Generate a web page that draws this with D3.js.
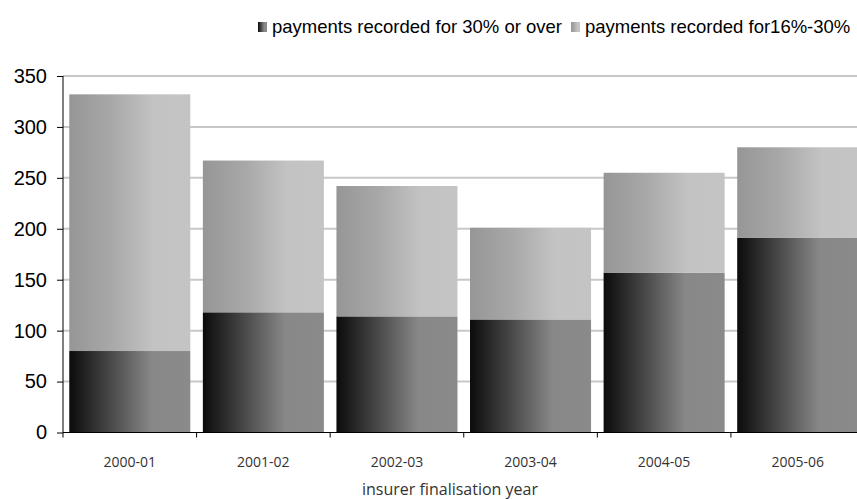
<!DOCTYPE html>
<html>
<head>
<meta charset="utf-8">
<script src="https://cdn.jsdelivr.net/npm/d3@7"></script>
<style>
  html, body { margin: 0; padding: 0; background: #ffffff; }
  svg { display: block; }
</style>
</head>
<body>
<svg id="chart" width="857" height="499"></svg>
<script>
// Finalisation years
const categories = ["2000-01", "2001-02", "2002-03", "2003-04", "2004-05", "2005-06"];
// Payments recorded for 30% or over
const over30 = [80, 118, 114, 111, 157, 191];
// Payments recorded for 16%-30%
const from16to30 = [252, 149, 128, 90, 98, 89];
const seriesNames = ["payments recorded for 30% or over", "payments recorded for16%-30%"];
const yTicks = [0, 50, 100, 150, 200, 250, 300, 350];

const svg = d3.select("#chart");
const W = 857, H = 499;
const plotLeft = 63, plotRight = 864.5, plotTop = 76, plotBottom = 432.5;

const x = d3.scaleBand().domain(categories).range([plotLeft, plotRight]).paddingInner(0.094).paddingOuter(0.047);
const y = d3.scaleLinear().domain([0, 350]).range([plotBottom, plotTop]);

// gradients
const defs = svg.append("defs");
function grad(id, stops) {
  const g = defs.append("linearGradient").attr("id", id).attr("x1", "0").attr("x2", "1").attr("y1", "0").attr("y2", "0");
  stops.forEach(s => g.append("stop").attr("offset", s[0]).attr("stop-color", s[1]));
}
grad("gDark", [[0, "#0b0b0b"], [0.35, "#4a4a4a"], [0.68, "#888888"], [1, "#8a8a8a"]]);
grad("gLight", [[0, "#969696"], [0.35, "#a8a8a8"], [0.7, "#c3c3c3"], [1, "#c4c4c4"]]);
const fills = ["url(#gDark)", "url(#gLight)"];

// horizontal gridlines
svg.append("g").selectAll("line").data(yTicks.slice(1)).join("line")
  .attr("x1", plotLeft).attr("x2", W)
  .attr("y1", d => y(d)).attr("y2", d => y(d))
  .attr("stroke", "#c8c8c8").attr("stroke-width", 2);

// stacked bars
const rows = categories.map((c, i) => ({ cat: c, over30: over30[i], from16to30: from16to30[i] }));
const stack = d3.stack().keys(["over30", "from16to30"])(rows);
svg.append("g").selectAll("g").data(stack).join("g")
  .attr("fill", (d, i) => fills[i])
  .selectAll("rect").data(d => d).join("rect")
  .attr("x", d => x(d.data.cat))
  .attr("width", x.bandwidth())
  .attr("y", d => y(d[1]))
  .attr("height", d => y(d[0]) - y(d[1]));

// y axis
const yAxis = d3.axisLeft(y).tickValues(yTicks).tickSize(6).tickPadding(10).tickSizeOuter(0);
const gy = svg.append("g").attr("transform", `translate(${plotLeft},0)`).call(yAxis);
gy.select(".domain").remove();
gy.append("line").attr("x1", 0).attr("x2", 0).attr("y1", plotTop).attr("y2", plotBottom + 5).attr("stroke", "#000");
gy.selectAll(".tick line").attr("stroke", "#000");
gy.selectAll(".tick text").attr("fill", "#000")
  .style("font-family", "'Liberation Sans', Arial, sans-serif").style("font-size", "20px");

// x axis
svg.append("line").attr("x1", plotLeft).attr("x2", W).attr("y1", plotBottom).attr("y2", plotBottom).attr("stroke", "#000");
const step = x.step();
svg.append("g").selectAll("line").data(categories.slice(1)).join("line")
  .attr("x1", d => x(d) - step * x.paddingInner() / 2).attr("x2", d => x(d) - step * x.paddingInner() / 2)
  .attr("y1", plotBottom).attr("y2", plotBottom + 5).attr("stroke", "#000");
svg.append("g").selectAll("text").data(categories).join("text")
  .attr("x", d => x(d) + x.bandwidth() / 2)
  .attr("y", 467)
  .attr("text-anchor", "middle")
  .attr("fill", "#333")
  .style("font-family", "'Open Sans', sans-serif").style("font-size", "14px")
  .text(d => d);

svg.append("text").attr("x", 450).attr("y", 495).attr("text-anchor", "middle")
  .attr("fill", "#333")
  .style("font-family", "'Open Sans', sans-serif").style("font-size", "16px")
  .text("insurer finalisation year");

// legend
const legend = svg.append("g").style("font-family", "'Liberation Sans', Arial, sans-serif").style("font-size", "18.5px");
const legendX = [258, 571];
seriesNames.forEach((n, i) => {
  legend.append("rect").attr("x", legendX[i]).attr("y", 22).attr("width", 9).attr("height", 10).attr("fill", fills[i]);
  legend.append("text").attr("x", legendX[i] + 14).attr("y", 33).attr("fill", "#000").text(n);
});
</script>
</body>
</html>
